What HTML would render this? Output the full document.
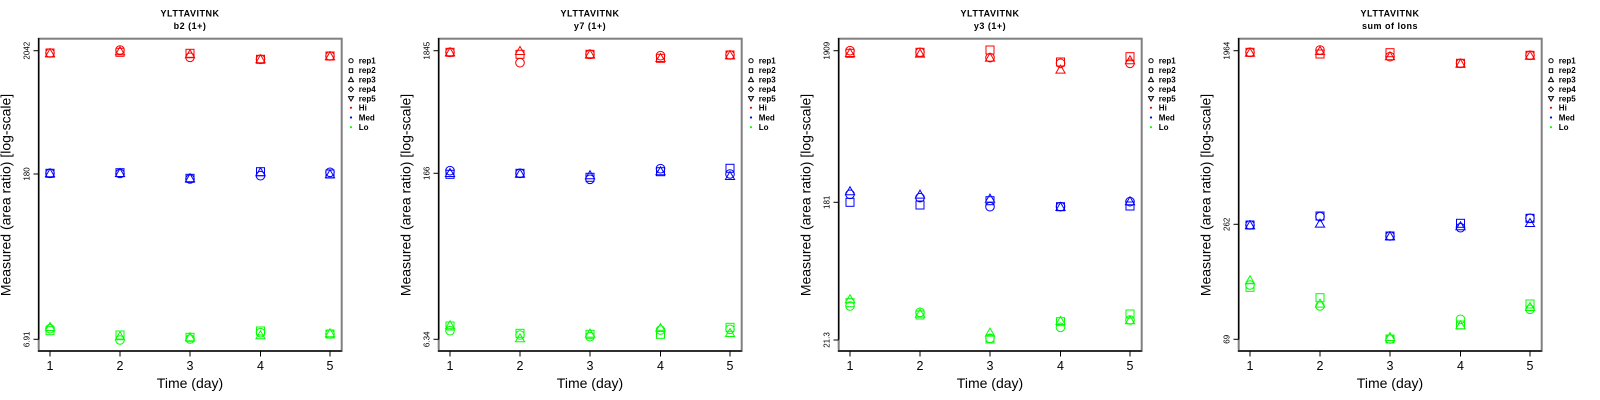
<!DOCTYPE html>
<html><head><meta charset="utf-8"><style>
html,body{margin:0;padding:0;background:#fff;}
svg{display:block;}
text{font-family:"Liberation Sans",Arial,sans-serif;fill:#000;}
.ti{font-size:9px;font-weight:bold;letter-spacing:0.5px;}
.yt{font-size:8px;}
.xt{font-size:12.5px;}
.ax{font-size:14px;}
.lg{font-size:8px;font-weight:bold;}
</style></head><body>
<svg width="1600" height="400" viewBox="0 0 1600 400" xmlns="http://www.w3.org/2000/svg">
<defs>
<circle id="c" r="4.3" fill="none" stroke-width="1"/>
<rect id="s" x="-4" y="-4" width="8" height="8" fill="none" stroke-width="1"/>
<polygon id="t" points="0,-5.2 -4.6,2.8 4.6,2.8" fill="none" stroke-width="1"/>
<g id="frame">
<rect x="38.7" y="38.7" width="303" height="312.3" fill="none" stroke="#808080" stroke-width="2"/>
<line x1="38.7" y1="38" x2="38.7" y2="339.5" stroke="#000" stroke-width="1.3"/>
<line x1="38" y1="351" x2="341.7" y2="351" stroke="#000" stroke-width="1.3"/>
<g stroke="#000" stroke-width="1">
<line x1="50" y1="351" x2="50" y2="356.5"/><line x1="120" y1="351" x2="120" y2="356.5"/><line x1="190" y1="351" x2="190" y2="356.5"/><line x1="260.5" y1="351" x2="260.5" y2="356.5"/><line x1="330" y1="351" x2="330" y2="356.5"/>
</g>
<text class="xt" x="50" y="369.8" text-anchor="middle">1</text>
<text class="xt" x="120" y="369.8" text-anchor="middle">2</text>
<text class="xt" x="190" y="369.8" text-anchor="middle">3</text>
<text class="xt" x="260.5" y="369.8" text-anchor="middle">4</text>
<text class="xt" x="330" y="369.8" text-anchor="middle">5</text>
<text class="ax" x="190" y="388" text-anchor="middle">Time (day)</text>
<text class="ax" transform="translate(10.5,195) rotate(-90)" text-anchor="middle">Measured (area ratio) [log-scale]</text>
<g stroke="#000" stroke-width="1" fill="none">
<circle cx="351" cy="60.7" r="2.1"/>
<rect x="349.3" y="68.8" width="3.4" height="3.8"/>
<polygon points="351,77.2 348.5,81.6 353.5,81.6"/>
<polygon points="351,86.8 353.4,89.3 351,91.8 348.6,89.3"/>
<polygon points="351,101 348.5,96.6 353.5,96.6"/>
</g>
<circle cx="351" cy="107.7" r="1.1" fill="#ff0000"/>
<circle cx="351" cy="117.5" r="1.1" fill="#0000ff"/>
<circle cx="351" cy="127.2" r="1.1" fill="#00ff00"/>
<text class="lg" x="358.8" y="63.5">rep1</text>
<text class="lg" x="358.8" y="73.2">rep2</text>
<text class="lg" x="358.8" y="82.6">rep3</text>
<text class="lg" x="358.8" y="92.2">rep4</text>
<text class="lg" x="358.8" y="101.6">rep5</text>
<text class="lg" x="358.8" y="110.6">Hi</text>
<text class="lg" x="358.8" y="120.4">Med</text>
<text class="lg" x="358.8" y="130.1">Lo</text>
</g>
</defs>

<!-- Panel 1 -->
<g>
<use href="#frame"/>
<text class="ti" x="190" y="16.7" text-anchor="middle">YLTTAVITNK</text>
<text class="ti" x="190" y="29" text-anchor="middle">b2 (1+)</text>
<g stroke="#000"><line x1="33.5" y1="50.7" x2="38.7" y2="50.7"/><line x1="33.5" y1="174" x2="38.7" y2="174"/><line x1="33.5" y1="339.3" x2="38.7" y2="339.3"/></g>
<text class="yt" transform="translate(29.3,50.7) rotate(-90)" text-anchor="middle">2042</text>
<text class="yt" transform="translate(29.3,174) rotate(-90)" text-anchor="middle">180</text>
<text class="yt" transform="translate(29.3,339.3) rotate(-90)" text-anchor="middle">6.91</text>
<g stroke="#ff0000">
<use href="#c" x="50" y="53"/><use href="#s" x="50" y="53"/><use href="#t" x="50" y="54"/>
<use href="#c" x="120" y="50"/><use href="#s" x="120" y="52.3"/><use href="#t" x="120" y="52"/>
<use href="#c" x="190" y="57.3"/><use href="#s" x="190" y="53.3"/><use href="#t" x="190" y="55"/>
<use href="#c" x="260.5" y="59.3"/><use href="#s" x="260.5" y="59.3"/><use href="#t" x="260.5" y="60"/>
<use href="#c" x="330" y="56"/><use href="#s" x="330" y="56"/><use href="#t" x="330" y="57"/>
</g>
<g stroke="#0000ff">
<use href="#c" x="50" y="173.3"/><use href="#s" x="50" y="173.3"/><use href="#t" x="50" y="174"/>
<use href="#c" x="120" y="173.5"/><use href="#s" x="120" y="172.7"/><use href="#t" x="120" y="173.7"/>
<use href="#c" x="190" y="179"/><use href="#s" x="190" y="178.3"/><use href="#t" x="190" y="179"/>
<use href="#c" x="260.5" y="175.7"/><use href="#s" x="260.5" y="171.7"/><use href="#t" x="260.5" y="173"/>
<use href="#c" x="330" y="172.3"/><use href="#s" x="330" y="174"/><use href="#t" x="330" y="175"/>
</g>
<g stroke="#00ff00">
<use href="#c" x="50" y="328.7"/><use href="#s" x="50" y="330.7"/><use href="#t" x="50" y="327.7"/>
<use href="#c" x="120" y="340"/><use href="#s" x="120" y="335"/><use href="#t" x="120" y="337"/>
<use href="#c" x="190" y="339"/><use href="#s" x="190" y="337.3"/><use href="#t" x="190" y="338"/>
<use href="#c" x="260.5" y="332.7"/><use href="#s" x="260.5" y="331"/><use href="#t" x="260.5" y="336"/>
<use href="#c" x="330" y="334"/><use href="#s" x="330" y="334"/><use href="#t" x="330" y="334"/>
</g>
</g>

<!-- Panel 2 -->
<g transform="translate(400,0)">
<use href="#frame"/>
<text class="ti" x="190" y="16.7" text-anchor="middle">YLTTAVITNK</text>
<text class="ti" x="190" y="29" text-anchor="middle">y7 (1+)</text>
<g stroke="#000"><line x1="33.5" y1="50.7" x2="38.7" y2="50.7"/><line x1="33.5" y1="173.3" x2="38.7" y2="173.3"/><line x1="33.5" y1="339.3" x2="38.7" y2="339.3"/></g>
<text class="yt" transform="translate(29.3,50.7) rotate(-90)" text-anchor="middle">1845</text>
<text class="yt" transform="translate(29.3,173.3) rotate(-90)" text-anchor="middle">166</text>
<text class="yt" transform="translate(29.3,339.3) rotate(-90)" text-anchor="middle">6.34</text>
<g stroke="#ff0000">
<use href="#c" x="50" y="52.3"/><use href="#s" x="50" y="52.3"/><use href="#t" x="50" y="53"/>
<use href="#c" x="120" y="62.7"/><use href="#s" x="120" y="54.3"/><use href="#t" x="120" y="51.7"/>
<use href="#c" x="190" y="54.3"/><use href="#s" x="190" y="54.3"/><use href="#t" x="190" y="55"/>
<use href="#c" x="260.5" y="55.7"/><use href="#s" x="260.5" y="58.3"/><use href="#t" x="260.5" y="58.7"/>
<use href="#c" x="330" y="55"/><use href="#s" x="330" y="55"/><use href="#t" x="330" y="56"/>
</g>
<g stroke="#0000ff">
<use href="#c" x="50" y="170.7"/><use href="#s" x="50" y="174.3"/><use href="#t" x="50" y="173.7"/>
<use href="#c" x="120" y="173.3"/><use href="#s" x="120" y="173.3"/><use href="#t" x="120" y="174.3"/>
<use href="#c" x="190" y="179.3"/><use href="#s" x="190" y="177.3"/><use href="#t" x="190" y="176"/>
<use href="#c" x="260.5" y="168.7"/><use href="#s" x="260.5" y="171.7"/><use href="#t" x="260.5" y="172"/>
<use href="#c" x="330" y="174"/><use href="#s" x="330" y="168.3"/><use href="#t" x="330" y="176.7"/>
</g>
<g stroke="#00ff00">
<use href="#c" x="50" y="330.7"/><use href="#s" x="50" y="326"/><use href="#t" x="50" y="326"/>
<use href="#c" x="120" y="335"/><use href="#s" x="120" y="333.3"/><use href="#t" x="120" y="339"/>
<use href="#c" x="190" y="336.7"/><use href="#s" x="190" y="334.3"/><use href="#t" x="190" y="334.3"/>
<use href="#c" x="260.5" y="330"/><use href="#s" x="260.5" y="334.3"/><use href="#t" x="260.5" y="328.7"/>
<use href="#c" x="330" y="329.3"/><use href="#s" x="330" y="327.3"/><use href="#t" x="330" y="333.7"/>
</g>
</g>

<!-- Panel 3 -->
<g transform="translate(800,0)">
<use href="#frame"/>
<text class="ti" x="190" y="16.7" text-anchor="middle">YLTTAVITNK</text>
<text class="ti" x="190" y="29" text-anchor="middle">y3 (1+)</text>
<g stroke="#000"><line x1="33.5" y1="50.7" x2="38.7" y2="50.7"/><line x1="33.5" y1="202.3" x2="38.7" y2="202.3"/><line x1="33.5" y1="340" x2="38.7" y2="340"/></g>
<text class="yt" transform="translate(29.3,50.7) rotate(-90)" text-anchor="middle">1909</text>
<text class="yt" transform="translate(29.3,202.3) rotate(-90)" text-anchor="middle">181</text>
<text class="yt" transform="translate(29.3,340) rotate(-90)" text-anchor="middle">21.3</text>
<g stroke="#ff0000">
<use href="#c" x="50" y="50.7"/><use href="#s" x="50" y="53.3"/><use href="#t" x="50" y="53.7"/>
<use href="#c" x="120" y="52.3"/><use href="#s" x="120" y="52.3"/><use href="#t" x="120" y="54.3"/>
<use href="#c" x="190" y="57.7"/><use href="#s" x="190" y="50"/><use href="#t" x="190" y="58.3"/>
<use href="#c" x="260.5" y="63.3"/><use href="#s" x="260.5" y="62"/><use href="#t" x="260.5" y="70.3"/>
<use href="#c" x="330" y="63.3"/><use href="#s" x="330" y="56.7"/><use href="#t" x="330" y="61"/>
</g>
<g stroke="#0000ff">
<use href="#c" x="50" y="194.3"/><use href="#s" x="50" y="202.3"/><use href="#t" x="50" y="192"/>
<use href="#c" x="120" y="197.7"/><use href="#s" x="120" y="205"/><use href="#t" x="120" y="195.3"/>
<use href="#c" x="190" y="206.7"/><use href="#s" x="190" y="200.7"/><use href="#t" x="190" y="199.3"/>
<use href="#c" x="260.5" y="206.7"/><use href="#s" x="260.5" y="206.7"/><use href="#t" x="260.5" y="207.7"/>
<use href="#c" x="330" y="201.7"/><use href="#s" x="330" y="206"/><use href="#t" x="330" y="202"/>
</g>
<g stroke="#00ff00">
<use href="#c" x="50" y="306"/><use href="#s" x="50" y="302.7"/><use href="#t" x="50" y="300"/>
<use href="#c" x="120" y="312.3"/><use href="#s" x="120" y="315"/><use href="#t" x="120" y="314.3"/>
<use href="#c" x="190" y="338.3"/><use href="#s" x="190" y="339"/><use href="#t" x="190" y="333.3"/>
<use href="#c" x="260.5" y="327.3"/><use href="#s" x="260.5" y="321.7"/><use href="#t" x="260.5" y="321.7"/>
<use href="#c" x="330" y="320"/><use href="#s" x="330" y="314"/><use href="#t" x="330" y="321"/>
</g>
</g>

<!-- Panel 4 -->
<g transform="translate(1200,0)">
<use href="#frame"/>
<text class="ti" x="190" y="16.7" text-anchor="middle">YLTTAVITNK</text>
<text class="ti" x="190" y="29" text-anchor="middle">sum of Ions</text>
<g stroke="#000"><line x1="33.5" y1="50.7" x2="38.7" y2="50.7"/><line x1="33.5" y1="224.3" x2="38.7" y2="224.3"/><line x1="33.5" y1="339.3" x2="38.7" y2="339.3"/></g>
<text class="yt" transform="translate(29.3,50.7) rotate(-90)" text-anchor="middle">1964</text>
<text class="yt" transform="translate(29.3,224.3) rotate(-90)" text-anchor="middle">262</text>
<text class="yt" transform="translate(29.3,339.3) rotate(-90)" text-anchor="middle">69</text>
<g stroke="#ff0000">
<use href="#c" x="50" y="52.3"/><use href="#s" x="50" y="52.3"/><use href="#t" x="50" y="53.3"/>
<use href="#c" x="120" y="50"/><use href="#s" x="120" y="54"/><use href="#t" x="120" y="51.7"/>
<use href="#c" x="190" y="56.7"/><use href="#s" x="190" y="52.7"/><use href="#t" x="190" y="57"/>
<use href="#c" x="260.5" y="63.3"/><use href="#s" x="260.5" y="63.3"/><use href="#t" x="260.5" y="64.3"/>
<use href="#c" x="330" y="55.3"/><use href="#s" x="330" y="55.3"/><use href="#t" x="330" y="56.3"/>
</g>
<g stroke="#0000ff">
<use href="#c" x="50" y="225"/><use href="#s" x="50" y="225"/><use href="#t" x="50" y="226"/>
<use href="#c" x="120" y="216.7"/><use href="#s" x="120" y="216"/><use href="#t" x="120" y="224.3"/>
<use href="#c" x="190" y="236"/><use href="#s" x="190" y="236"/><use href="#t" x="190" y="237"/>
<use href="#c" x="260.5" y="227.7"/><use href="#s" x="260.5" y="223.3"/><use href="#t" x="260.5" y="227"/>
<use href="#c" x="330" y="218.3"/><use href="#s" x="330" y="218.3"/><use href="#t" x="330" y="223.7"/>
</g>
<g stroke="#00ff00">
<use href="#c" x="50" y="285"/><use href="#s" x="50" y="287.3"/><use href="#t" x="50" y="281"/>
<use href="#c" x="120" y="306"/><use href="#s" x="120" y="297.7"/><use href="#t" x="120" y="304.3"/>
<use href="#c" x="190" y="339"/><use href="#s" x="190" y="339"/><use href="#t" x="190" y="337.7"/>
<use href="#c" x="260.5" y="319.3"/><use href="#s" x="260.5" y="325"/><use href="#t" x="260.5" y="326"/>
<use href="#c" x="330" y="309.3"/><use href="#s" x="330" y="304"/><use href="#t" x="330" y="307.7"/>
</g>
</g>
</svg>
</body></html>
